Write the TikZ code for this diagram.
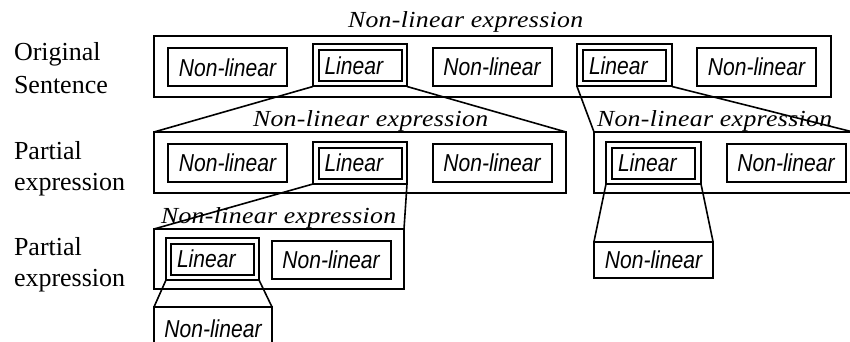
\documentclass[tikz,border=0pt]{standalone}
\usepackage{fontspec}
\setmainfont{Liberation Serif}
\newfontfamily\boxfont[FakeStretch=0.86]{Liberation Sans}
\newfontfamily\exprfont[FakeStretch=1.12,LetterSpace=1.5]{Liberation Serif}
\begin{document}
\begin{tikzpicture}[x=1pt,y=-1pt,line width=2pt,
  box/.style={draw,rectangle,inner sep=0pt,outer sep=0pt},
  boxtext/.style={font=\boxfont\itshape\fontsize{24.5}{29}\selectfont},
  nlbox/.style={box,boxtext,minimum width=119pt,minimum height=38pt},
  frame/.style={box,minimum height=61pt},
  linout/.style={box,minimum width=94pt,minimum height=42pt},
  linin/.style={box,boxtext,text width=71pt,inner xsep=6pt,inner ysep=0pt,
    minimum height=31pt,align=left},
  expr/.style={anchor=base west,inner sep=0pt,
    font=\exprfont\itshape\fontsize{23}{28}\selectfont},
  side/.style={anchor=base west,inner sep=0pt,font=\fontsize{26}{31}\selectfont},
  link/.style={line width=1.6pt}]
\clip (0,0) rectangle (850,342);

% row labels
\node[side] (o1) at (13,61) {Original};
\node[side] (o2) at (13,94) {Sentence};
\node[side] (p1) at (13,159) {Partial};
\node[side] (p2) at (13,190) {expression};
\node[side] (p3) at (13,255) {Partial};
\node[side] (p4) at (13,286) {expression};

% original sentence
\node[frame,minimum width=677pt] (R1) at (492.5,66.5) {};
\node[expr] (e1) at (347,28) {Non-linear expression};
\node[nlbox] (N1a) at (227.5,67.5) {Non-linear};
\node[linout] (L1) at (360,65.5) {};
\node[linin] (L1i) at (L1.center) {Linear};
\node[nlbox] (N1b) at (492,67) {Non-linear};
\node[linout,minimum width=95pt] (L2) at (624.5,65.5) {};
\node[linin] (L2i) at (L2.center) {Linear};
\node[nlbox] (N1c) at (756.5,67) {Non-linear};

% partial expression, left
\node[frame,minimum width=412pt] (R2) at (360,162.5) {};
\node[expr] (e2) at (252,126) {Non-linear expression};
\node[nlbox] (N2a) at (227.5,163) {Non-linear};
\node[linout] (L3) at (360,163) {};
\node[linin] (L3i) at (L3.center) {Linear};
\node[nlbox] (N2b) at (492,162.5) {Non-linear};

% partial expression, right
\node[frame,minimum width=259pt] (R3) at (723.5,162.5) {};
\node[expr] (e3) at (596,126) {Non-linear expression};
\node[linout,minimum width=95pt] (L4) at (653.5,163) {};
\node[linin] (L4i) at (L4.center) {Linear};
\node[nlbox] (N3b) at (786,163) {Non-linear};
\node[nlbox,minimum height=36pt] (N5) at (653.5,259.5) {Non-linear};

% second partial expression
\node[frame,minimum width=250pt,minimum height=60pt] (R4) at (279,259) {};
\node[expr] (e4) at (160,223) {Non-linear expression};
\node[linout,minimum width=93pt] (L5) at (212.5,259) {};
\node[linin] (L5i) at (L5.center) {Linear};
\node[nlbox] (N4b) at (331,260) {Non-linear};
\node[nlbox,minimum width=118pt,minimum height=44pt] (N6) at (213,329) {Non-linear};

% expansion lines
\draw[link] (L1.south west) -- (R2.north west);
\draw[link] (L1.south east) -- (R2.north east);
\draw[link] (L2.south west) -- (R3.north west);
\draw[link] (L2.south east) -- (R3.north east);
\draw[link] (L3.south west) -- (R4.north west);
\draw[link] (L3.south east) -- (R4.north east);
\draw[link] (L4.south west) -- (N5.north west);
\draw[link] (L4.south east) -- (N5.north east);
\draw[link] (L5.south west) -- (N6.north west);
\draw[link] (L5.south east) -- (N6.north east);
\end{tikzpicture}
\end{document}
